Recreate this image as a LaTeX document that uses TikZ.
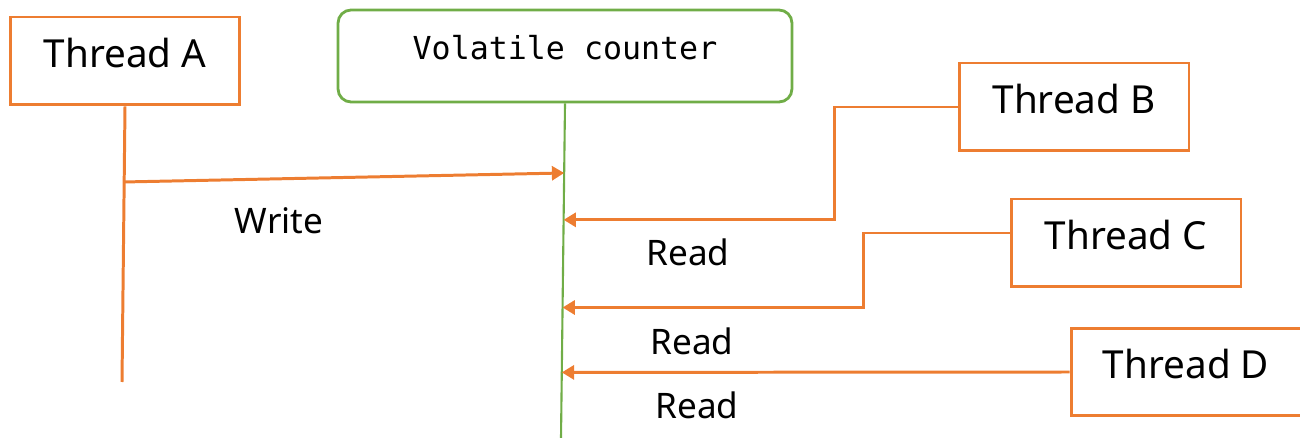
\documentclass[tikz,border=0pt]{standalone}
\usepackage{fontspec}
\setmainfont{Noto Sans}
\newfontfamily\countermono{DejaVu Sans Mono}
\usetikzlibrary{arrows.meta,calc}
\definecolor{throrange}{RGB}{237,125,49}
\definecolor{volgreen}{RGB}{112,173,71}
\tikzset{
   thread/.style={draw=throrange,line width=1.7pt,minimum width=4.6cm,minimum height=1.76cm,
      text height=0.5cm,text depth=0.22cm,font=\fontsize{22}{26}\selectfont},
   counter/.style={draw=volgreen,line width=1.6pt,rounded corners=0.26cm,minimum width=9.08cm,
      minimum height=1.84cm,text height=0.4cm,text depth=0.24cm,font=\countermono\fontsize{18}{22}\selectfont},
   access/.style={draw=throrange,line width=1.7pt,-{Triangle[length=7pt,width=8pt]}},
   lbl/.style={font=\fontsize{20}{24}\selectfont}
}

\begin{document}
\begin{tikzpicture}[x=0.02cm,y=-0.02cm]
   \useasboundingbox (0,0) rectangle (1300,438);
   \node[thread]  (A) at (125,61)   {Thread A};
   \node[counter] (V) at (565,56)   {Volatile counter};
   \node[thread]  (B) at (1074,107) {Thread B};
   \node[thread]  (C) at (1126,243) {Thread C};
   \node[thread]  (D) at (1186,372) {Thread D};
   \coordinate (Aend) at (122,382);
   \coordinate (Vend) at (561,438);
   \draw[throrange,line width=1.7pt] (A.south) -- (Aend);
   \draw[volgreen,line width=1.2pt] (V.south) -- (Vend);
   \coordinate (wA) at ($(A.south)!0.274!(Aend)$);
   \coordinate (tW) at ($(V.south)!0.208!(Vend)$);
   \coordinate (tB) at ($(V.south)!0.348!(Vend)$);
   \coordinate (tC) at ($(V.south)!0.610!(Vend)$);
   \coordinate (tD) at ($(V.south)!0.804!(Vend)$);
   \draw[access] (wA) -- (tW);
   \draw[access] (B.west) -- ++(-123,0) |- (tB);
   \draw[access] ([yshift=0.2cm]C.west) -- ++(-146,0) |- (tC);
   \draw[access] (D.west) -- (tD);
   \node[lbl] (write) at (279,221) {Write};
   \node[lbl] (readB) at (688,252) {Read};
   \node[lbl] (readC) at (692,341) {Read};
   \node[lbl] (readD) at (697,405) {Read};
\end{tikzpicture}
\end{document}
